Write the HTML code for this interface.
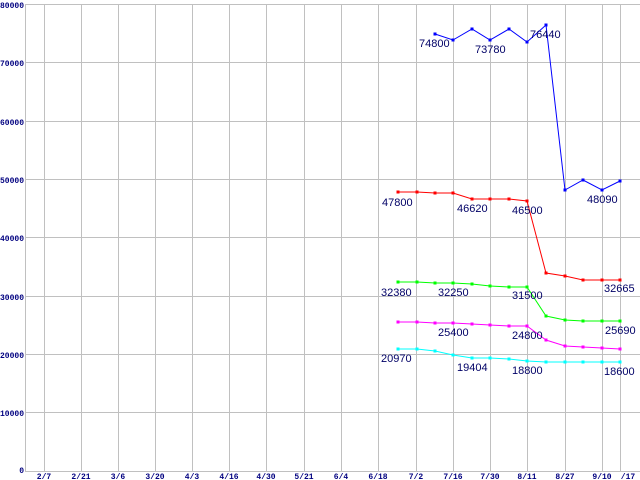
<!DOCTYPE html>
<html><head><meta charset="utf-8"><style>
html,body{margin:0;padding:0;background:#fff;width:640px;height:480px;overflow:hidden}
svg{display:block}
.t{font-family:"Liberation Sans",sans-serif;font-size:11px;fill:#000066}
.a{font-family:"Liberation Mono",monospace;font-size:8px;font-weight:bold;fill:#000080}
</style></head><body>
<svg width="640" height="480" viewBox="0 0 640 480" xmlns="http://www.w3.org/2000/svg">
<g stroke="#c0c0c0" stroke-width="1">
<line x1="26" y1="4.5" x2="640" y2="4.5"/>
<line x1="26" y1="62.5" x2="640" y2="62.5"/>
<line x1="26" y1="121.5" x2="640" y2="121.5"/>
<line x1="26" y1="179.5" x2="640" y2="179.5"/>
<line x1="26" y1="237.5" x2="640" y2="237.5"/>
<line x1="26" y1="296.5" x2="640" y2="296.5"/>
<line x1="26" y1="354.5" x2="640" y2="354.5"/>
<line x1="26" y1="412.5" x2="640" y2="412.5"/>
<line x1="26" y1="471.5" x2="640" y2="471.5"/>
<line x1="25.5" y1="4" x2="25.5" y2="472"/>
<line x1="44.5" y1="4" x2="44.5" y2="472"/>
<line x1="81.5" y1="4" x2="81.5" y2="472"/>
<line x1="118.5" y1="4" x2="118.5" y2="472"/>
<line x1="155.5" y1="4" x2="155.5" y2="472"/>
<line x1="192.5" y1="4" x2="192.5" y2="472"/>
<line x1="229.5" y1="4" x2="229.5" y2="472"/>
<line x1="266.5" y1="4" x2="266.5" y2="472"/>
<line x1="304.5" y1="4" x2="304.5" y2="472"/>
<line x1="341.5" y1="4" x2="341.5" y2="472"/>
<line x1="378.5" y1="4" x2="378.5" y2="472"/>
<line x1="416.5" y1="4" x2="416.5" y2="472"/>
<line x1="453.5" y1="4" x2="453.5" y2="472"/>
<line x1="490.5" y1="4" x2="490.5" y2="472"/>
<line x1="527.5" y1="4" x2="527.5" y2="472"/>
<line x1="565.5" y1="4" x2="565.5" y2="472"/>
<line x1="602.5" y1="4" x2="602.5" y2="472"/>
<line x1="620.5" y1="4" x2="620.5" y2="472"/>
</g>
<g class="a" text-anchor="end">
<text x="24" y="8">80000</text><text x="24" y="66">70000</text><text x="24" y="125">60000</text>
<text x="24" y="183">50000</text><text x="24" y="241">40000</text><text x="24" y="300">30000</text>
<text x="24" y="358">20000</text><text x="24" y="416">10000</text><text x="24" y="473">0</text>
</g>
<g class="a" text-anchor="middle">
<text x="44" y="479">2/7</text><text x="81" y="479">2/21</text><text x="118" y="479">3/6</text>
<text x="155" y="479">3/20</text><text x="192" y="479">4/3</text><text x="229" y="479">4/16</text>
<text x="266" y="479">4/30</text><text x="304" y="479">5/21</text><text x="341" y="479">6/4</text>
<text x="378" y="479">6/18</text><text x="416" y="479">7/2</text><text x="453" y="479">7/16</text>
<text x="490" y="479">7/30</text><text x="527" y="479">8/11</text><text x="565" y="479">8/27</text>
<text x="602" y="479">9/10</text><text x="628" y="479">/17</text>
</g>
<g fill="none" stroke-width="1">
<polyline stroke="#0000ff" points="435,34 453,40 472,29 490,40 509,29 527,42 546,25 565,190 583,180 602,190 620,181"/>
<polyline stroke="#ff0000" points="398,192 417,192 435,193 453,193 472,199 490,199 509,199 527,201 546,273 565,276 583,280 602,280 620,280"/>
<polyline stroke="#00ff00" points="398,282 417,282 435,283 453,283 472,284 490,286 509,287 527,287 546,316 565,320 583,321 602,321 620,321"/>
<polyline stroke="#ff00ff" points="398,322 417,322 435,323 453,323 472,324 490,325 509,326 527,326 546,340 565,346 583,347 602,348 620,349"/>
<polyline stroke="#00ffff" points="398,349 417,349 435,351 453,355 472,358 490,358 509,359 527,361 546,362 565,362 583,362 602,362 620,362"/>
</g>
<g fill="#0000ff">
<rect x="433.5" y="32.5" width="3" height="3"/><rect x="451.5" y="38.5" width="3" height="3"/><rect x="470.5" y="27.5" width="3" height="3"/><rect x="488.5" y="38.5" width="3" height="3"/><rect x="507.5" y="27.5" width="3" height="3"/><rect x="525.5" y="40.5" width="3" height="3"/><rect x="544.5" y="23.5" width="3" height="3"/><rect x="563.5" y="188.5" width="3" height="3"/><rect x="581.5" y="178.5" width="3" height="3"/><rect x="600.5" y="188.5" width="3" height="3"/><rect x="618.5" y="179.5" width="3" height="3"/>
</g>
<g fill="#ff0000">
<rect x="396.5" y="190.5" width="3" height="3"/><rect x="415.5" y="190.5" width="3" height="3"/><rect x="433.5" y="191.5" width="3" height="3"/><rect x="451.5" y="191.5" width="3" height="3"/><rect x="470.5" y="197.5" width="3" height="3"/><rect x="488.5" y="197.5" width="3" height="3"/><rect x="507.5" y="197.5" width="3" height="3"/><rect x="525.5" y="199.5" width="3" height="3"/><rect x="544.5" y="271.5" width="3" height="3"/><rect x="563.5" y="274.5" width="3" height="3"/><rect x="581.5" y="278.5" width="3" height="3"/><rect x="600.5" y="278.5" width="3" height="3"/><rect x="618.5" y="278.5" width="3" height="3"/>
</g>
<g fill="#00ff00">
<rect x="396.5" y="280.5" width="3" height="3"/><rect x="415.5" y="280.5" width="3" height="3"/><rect x="433.5" y="281.5" width="3" height="3"/><rect x="451.5" y="281.5" width="3" height="3"/><rect x="470.5" y="282.5" width="3" height="3"/><rect x="488.5" y="284.5" width="3" height="3"/><rect x="507.5" y="285.5" width="3" height="3"/><rect x="525.5" y="285.5" width="3" height="3"/><rect x="544.5" y="314.5" width="3" height="3"/><rect x="563.5" y="318.5" width="3" height="3"/><rect x="581.5" y="319.5" width="3" height="3"/><rect x="600.5" y="319.5" width="3" height="3"/><rect x="618.5" y="319.5" width="3" height="3"/>
</g>
<g fill="#ff00ff">
<rect x="396.5" y="320.5" width="3" height="3"/><rect x="415.5" y="320.5" width="3" height="3"/><rect x="433.5" y="321.5" width="3" height="3"/><rect x="451.5" y="321.5" width="3" height="3"/><rect x="470.5" y="322.5" width="3" height="3"/><rect x="488.5" y="323.5" width="3" height="3"/><rect x="507.5" y="324.5" width="3" height="3"/><rect x="525.5" y="324.5" width="3" height="3"/><rect x="544.5" y="338.5" width="3" height="3"/><rect x="563.5" y="344.5" width="3" height="3"/><rect x="581.5" y="345.5" width="3" height="3"/><rect x="600.5" y="346.5" width="3" height="3"/><rect x="618.5" y="347.5" width="3" height="3"/>
</g>
<g fill="#00ffff">
<rect x="396.5" y="347.5" width="3" height="3"/><rect x="415.5" y="347.5" width="3" height="3"/><rect x="433.5" y="349.5" width="3" height="3"/><rect x="451.5" y="353.5" width="3" height="3"/><rect x="470.5" y="356.5" width="3" height="3"/><rect x="488.5" y="356.5" width="3" height="3"/><rect x="507.5" y="357.5" width="3" height="3"/><rect x="525.5" y="359.5" width="3" height="3"/><rect x="544.5" y="360.5" width="3" height="3"/><rect x="563.5" y="360.5" width="3" height="3"/><rect x="581.5" y="360.5" width="3" height="3"/><rect x="600.5" y="360.5" width="3" height="3"/><rect x="618.5" y="360.5" width="3" height="3"/>
</g>
<g class="t">
<text x="419" y="47">74800</text><text x="475" y="53">73780</text><text x="530" y="38">76440</text><text x="587" y="203">48090</text>
<text x="382" y="206">47800</text><text x="457" y="212">46620</text><text x="512" y="214">46500</text><text x="604" y="292">32665</text>
<text x="381" y="296">32380</text><text x="438" y="296">32250</text><text x="512" y="299">31500</text><text x="605" y="334">25690</text>
<text x="438" y="336">25400</text><text x="512" y="339">24800</text>
<text x="381" y="362">20970</text><text x="457" y="371">19404</text><text x="512" y="374">18800</text><text x="604" y="375">18600</text>
</g>
</svg>
</body></html>
